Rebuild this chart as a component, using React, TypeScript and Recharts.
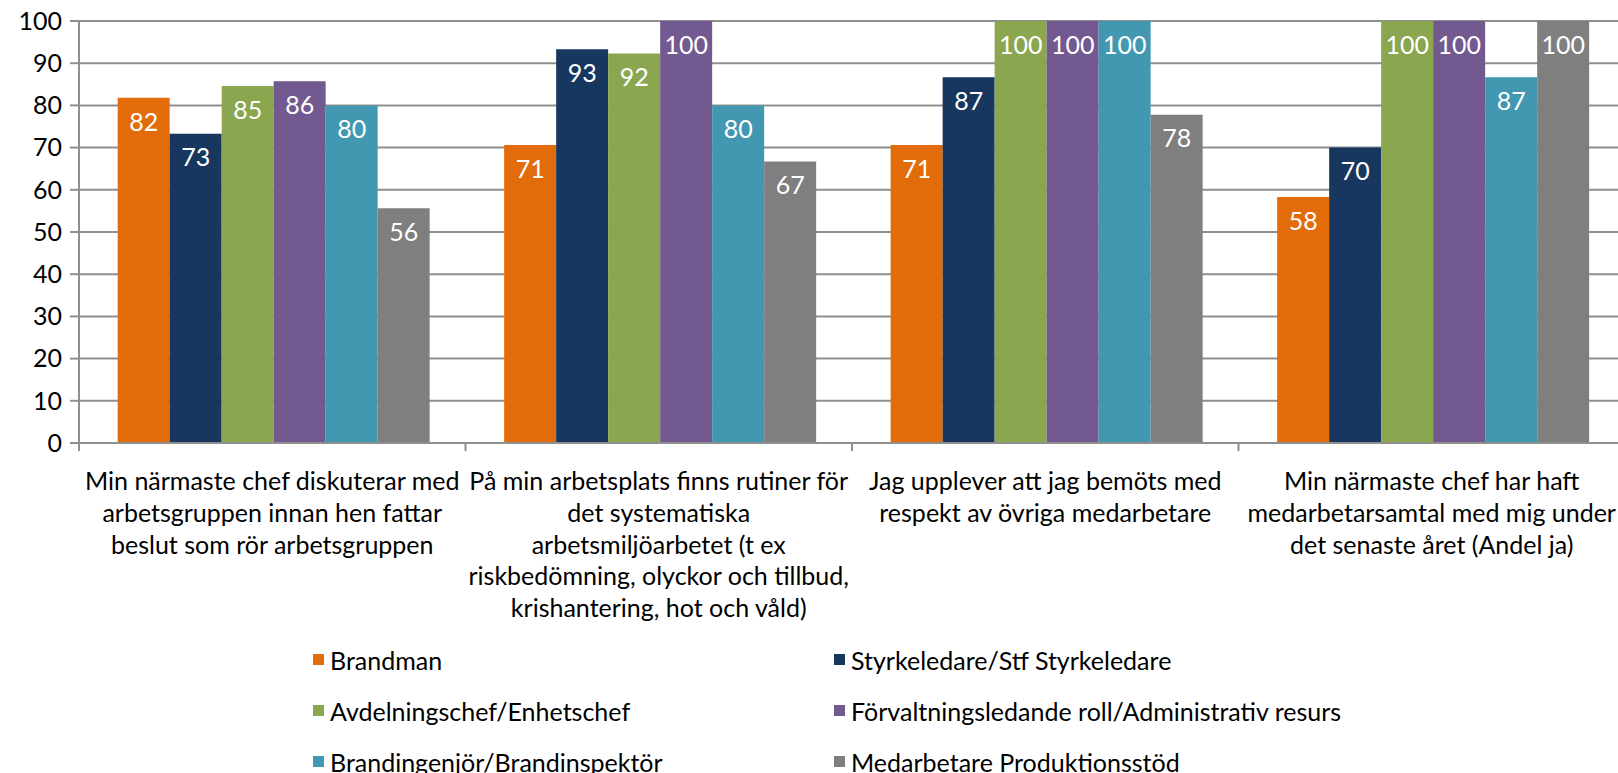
import { BarChart, Bar, XAxis, YAxis, CartesianGrid, Legend, LabelList } from "recharts";

const categories = [
  "Min närmaste chef diskuterar med\narbetsgruppen innan hen fattar\nbeslut som rör arbetsgruppen",
  "På min arbetsplats finns rutiner för\ndet systematiska\narbetsmiljöarbetet (t ex\nriskbedömning, olyckor och tillbud,\nkrishantering, hot och våld)",
  "Jag upplever att jag bemöts med\nrespekt av övriga medarbetare",
  "Min närmaste chef har haft\nmedarbetarsamtal med mig under\ndet senaste året (Andel ja)",
];

const brandman = [81.8, 70.6, 70.6, 58.3];
const styrkeledare = [73.3, 93.3, 86.7, 70];
const avdelningschef = [84.6, 92.3, 100, 100];
const forvaltning = [85.7, 100, 100, 100];
const brandingenjor = [80, 80, 100, 86.7];
const medarbetare = [55.6, 66.7, 77.8, 100];

const seriesNames = [
  "Brandman",
  "Styrkeledare/Stf Styrkeledare",
  "Avdelningschef/Enhetschef",
  "Förvaltningsledande roll/Administrativ resurs",
  "Brandingenjör/Brandinspektör",
  "Medarbetare Produktionsstöd",
];
const seriesValues = [brandman, styrkeledare, avdelningschef, forvaltning, brandingenjor, medarbetare];
const colors = ["#E36C0A", "#17375E", "#8AA64F", "#72598F", "#4298B0", "#7F7F7F"];

const yTicks = [0, 10, 20, 30, 40, 50, 60, 70, 80, 90, 100];

const data = categories.map((name, i) => {
  const row: Record<string, string | number> = { name };
  seriesNames.forEach((s, j) => {
    row[s] = seriesValues[j][i];
  });
  return row;
});

const FONT = "Lato, 'Open Sans', sans-serif";
const FS = 25;
const GRID = "#8f8f8f";
const CHART_W = 1640;
const PLOT_LEFT = 79;
const PLOT_RIGHT = 1625;
const BAND = (PLOT_RIGHT - PLOT_LEFT) / categories.length;

const CategoryTick = (props: any) => {
  const { x, y, payload, index } = props;
  const lines = String(payload.value).split("\n");
  return (
    <g>
      <line x1={x - BAND / 2} x2={x - BAND / 2} y1={y} y2={y + 8} stroke={GRID} strokeWidth={2} />
      {index === categories.length - 1 && (
        <line x1={x + BAND / 2} x2={x + BAND / 2} y1={y} y2={y + 8} stroke={GRID} strokeWidth={2} />
      )}
      <text x={x} y={y + 47} textAnchor="middle" fill="#000" fontSize={FS} fontFamily={FONT}>
        {lines.map((l, i) => (
          <tspan key={i} x={x} dy={i === 0 ? 0 : 31.8}>
            {l}
          </tspan>
        ))}
      </text>
    </g>
  );
};

const renderLegend = () => (
  <div
    style={{
      position: "relative",
      top: -6,
      height: 133,
      display: "grid",
      gridTemplateColumns: "521px auto",
      gridAutoRows: "51px",
      paddingLeft: 313,
      fontFamily: FONT,
      fontSize: FS,
      color: "#000",
    }}
  >
    {seriesNames.map((s, i) => (
      <div key={s} style={{ display: "flex", alignItems: "center", whiteSpace: "nowrap" }}>
        <span style={{ width: 11, height: 11, background: colors[i], marginRight: 6, display: "inline-block" }} />
        {s}
      </div>
    ))}
  </div>
);

export default function App() {
  return (
    <div style={{ position: "absolute", left: 0, top: 0, width: 1618, height: 773, overflow: "hidden", background: "#fff" }}>
      <BarChart
        width={CHART_W}
        height={773}
        data={data}
        margin={{ top: 21, right: CHART_W - PLOT_RIGHT, bottom: 0, left: 0 }}
        barCategoryGap="10%"
        barGap={0}
      >
        <CartesianGrid vertical={false} stroke={GRID} strokeWidth={2} />
        <XAxis
          dataKey="name"
          height={197}
          interval={0}
          tickLine={false}
          tickSize={0}
          tickMargin={0}
          axisLine={{ stroke: GRID, strokeWidth: 2 }}
          tick={<CategoryTick />}
        />
        <YAxis
          width={PLOT_LEFT}
          domain={[0, 100]}
          ticks={yTicks}
          interval={0}
          tickSize={9}
          tickMargin={8}
          axisLine={{ stroke: GRID, strokeWidth: 2 }}
          tickLine={{ stroke: GRID, strokeWidth: 2 }}
          tick={{ fill: "#000", fontSize: FS, fontFamily: FONT }}
        />
        <Legend verticalAlign="bottom" content={renderLegend} wrapperStyle={{ left: 0, width: 1618, height: 133 }} />
        {seriesNames.map((s, i) => (
          <Bar key={s} dataKey={s} fill={colors[i]} isAnimationActive={false}>
            <LabelList
              dataKey={s}
              position="insideTop"
              offset={15}
              fill="#fff"
              fontSize={FS}
              fontFamily={FONT}
              formatter={(v: any) => Math.round(Number(v))}
            />
          </Bar>
        ))}
      </BarChart>
    </div>
  );
}
